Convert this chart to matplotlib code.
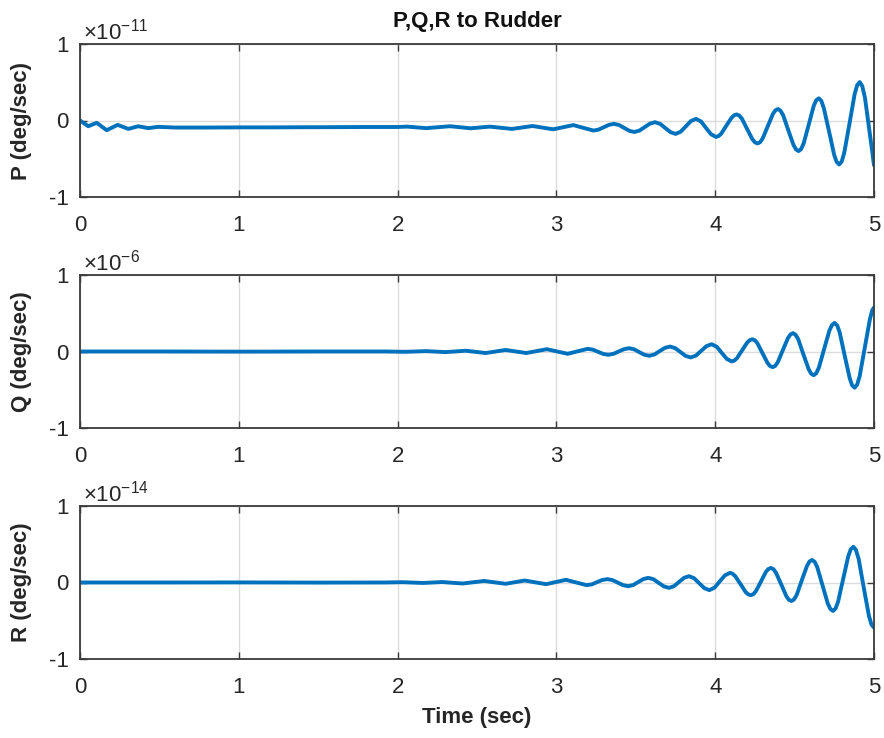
import matplotlib
matplotlib.use("Agg")
import matplotlib.pyplot as plt

plt.rcParams['font.family'] = ['Liberation Sans', 'DejaVu Sans']
plt.rcParams['axes.unicode_minus'] = False
plt.rcParams['mathtext.fontset'] = 'custom'
plt.rcParams['mathtext.rm'] = 'Liberation Sans'

# values, in units of the axis multiplier
p_time = [0.000, 0.052, 0.105, 0.168, 0.237, 0.304, 0.367, 0.430, 0.490,
          0.60, 0.80, 1.00, 1.20, 1.40, 1.60, 1.80, 2.00,
          2.06, 2.18, 2.33, 2.46, 2.58, 2.72, 2.85, 2.98, 3.107, 3.233,
          3.266, 3.298, 3.331, 3.363, 3.395, 3.427, 3.459, 3.491,
          3.524, 3.556, 3.589, 3.621, 3.654, 3.686, 3.719, 3.751,
          3.783, 3.815, 3.847, 3.879, 3.911, 3.942, 3.974,
          4.005, 4.021, 4.038, 4.070, 4.103, 4.119, 4.135, 4.1515, 4.168, 4.201,
          4.234, 4.2505, 4.267, 4.283, 4.299, 4.331, 4.363, 4.379, 4.395, 4.411,
          4.428, 4.460, 4.493, 4.509, 4.525, 4.541, 4.557, 4.589, 4.620, 4.636,
          4.652, 4.668, 4.684, 4.717, 4.749, 4.765, 4.781, 4.797, 4.813, 4.846,
          4.878, 4.894, 4.910, 4.926, 4.943, 4.975, 5.000]
p_vals = [0.000, -0.075, -0.030, -0.127, -0.057, -0.110, -0.075, -0.100, -0.083,
          -0.092, -0.092, -0.090, -0.090, -0.088, -0.087, -0.085, -0.085,
          -0.080, -0.100, -0.075, -0.102, -0.080, -0.110, -0.072, -0.115, -0.060, -0.132,
          -0.119, -0.088, -0.057, -0.044, -0.060, -0.097, -0.135, -0.150,
          -0.131, -0.086, -0.041, -0.022, -0.045, -0.099, -0.153, -0.175,
          -0.146, -0.077, -0.007, 0.022, -0.013, -0.097, -0.180,
          -0.215, -0.204, -0.172, -0.068, 0.036, 0.068, 0.079, 0.065, 0.024, -0.111,
          -0.245, -0.286, -0.300, -0.283, -0.234, -0.075, 0.084, 0.133, 0.150, 0.129,
          0.069, -0.125, -0.319, -0.379, -0.400, -0.374, -0.299, -0.055, 0.189, 0.264,
          0.290, 0.258, 0.163, -0.143, -0.448, -0.543, -0.575, -0.534, -0.418, -0.037,
          0.344, 0.461, 0.502, 0.450, 0.299, -0.192, -0.585]

q_time = [0.0, 0.5, 1.0, 1.5, 1.92, 2.05, 2.18,
          2.30, 2.43, 2.555, 2.68, 2.81, 2.94, 3.071, 3.197,
          3.230, 3.262, 3.295, 3.327, 3.360, 3.392, 3.425, 3.457,
          3.489, 3.521, 3.553, 3.585, 3.618, 3.650, 3.683, 3.715,
          3.748, 3.781, 3.813, 3.846, 3.879, 3.912, 3.945, 3.978,
          4.010, 4.041, 4.073,
          4.104, 4.120, 4.137, 4.169, 4.202, 4.218, 4.234, 4.250, 4.266, 4.298,
          4.330, 4.346, 4.362, 4.378, 4.394, 4.426, 4.458, 4.474, 4.490, 4.506,
          4.523, 4.555, 4.588, 4.604, 4.620, 4.6365, 4.653, 4.686, 4.719, 4.7355,
          4.752, 4.768, 4.784, 4.815, 4.847, 4.862, 4.878, 4.894, 4.910, 4.942,
          4.974, 4.989, 5.000]
q_vals = [0.000, 0.000, -0.002, 0.000, 0.000, -0.004, 0.005,
          -0.008, 0.010, -0.020, 0.020, -0.020, 0.030, -0.030, 0.035,
          0.024, -0.004, -0.032, -0.043, -0.030, 0.000, 0.030, 0.043,
          0.029, -0.007, -0.042, -0.056, -0.038, 0.005, 0.047, 0.065,
          0.044, -0.007, -0.057, -0.078, -0.053, 0.009, 0.070, 0.095,
          0.062, -0.018, -0.097,
          -0.130, -0.119, -0.088, 0.015, 0.118, 0.149, 0.160, 0.146, 0.107, -0.023,
          -0.152, -0.191, -0.205, -0.188, -0.140, 0.018, 0.175, 0.223, 0.240, 0.219,
          0.159, -0.035, -0.229, -0.289, -0.310, -0.284, -0.210, 0.032, 0.273, 0.347,
          0.373, 0.341, 0.249, -0.050, -0.349, -0.441, -0.473, -0.433, -0.320, 0.050,
          0.420, 0.540, 0.575]

r_time = [0.0, 0.5, 1.0, 1.5, 1.92, 2.03, 2.16,
          2.28, 2.41, 2.545, 2.68, 2.80, 2.935, 3.06, 3.191,
          3.224, 3.256, 3.289, 3.321, 3.354, 3.387, 3.420, 3.453,
          3.485, 3.516, 3.548, 3.579, 3.612, 3.644, 3.677, 3.709,
          3.741, 3.772, 3.804, 3.835, 3.867, 3.899, 3.931, 3.963,
          3.996, 4.028, 4.061,
          4.093, 4.109, 4.126, 4.159, 4.191, 4.208, 4.224, 4.240, 4.256, 4.288,
          4.319, 4.335, 4.351, 4.367, 4.383, 4.416, 4.448, 4.464, 4.480, 4.496,
          4.513, 4.545, 4.578, 4.594, 4.610, 4.6265, 4.643, 4.676, 4.709, 4.7255,
          4.742, 4.758, 4.774, 4.806, 4.838, 4.854, 4.870, 4.886, 4.903, 4.935,
          4.968, 4.984, 5.000]
r_vals = [0.000, 0.000, 0.001, -0.001, 0.000, 0.004, -0.006,
          0.006, -0.013, 0.020, -0.017, 0.026, -0.022, 0.035, -0.035,
          -0.024, 0.005, 0.033, 0.044, 0.031, -0.002, -0.035, -0.048,
          -0.032, 0.007, 0.045, 0.061, 0.042, -0.005, -0.051, -0.070,
          -0.048, 0.007, 0.061, 0.083, 0.056, -0.009, -0.073, -0.100,
          -0.067, 0.013, 0.093,
          0.126, 0.115, 0.083, -0.020, -0.123, -0.155, -0.166, -0.153, -0.114, 0.012,
          0.138, 0.177, 0.190, 0.174, 0.127, -0.026, -0.179, -0.226, -0.242, -0.222,
          -0.164, 0.027, 0.217, 0.275, 0.295, 0.270, 0.198, -0.039, -0.275, -0.347,
          -0.372, -0.340, -0.249, 0.048, 0.344, 0.435, 0.467, 0.427, 0.312, -0.062,
          -0.435, -0.550, -0.590]

labels = ['P (deg/sec)', 'Q (deg/sec)', 'R (deg/sec)']
exponents = ['-11', '-6', '-14']
x_ticks = [0, 1, 2, 3, 4, 5]
y_ticks = [-1, 0, 1]

W, H = 884, 738
fig = plt.figure(figsize=(W / 100, H / 100), dpi=100)

# axes boxes in pixels: (top, bottom)
boxes = [(44, 197), (275, 428), (506, 659)]
left, right = 80, 874

series = [(p_time, p_vals), (q_time, q_vals), (r_time, r_vals)]
for i, ((t, v), (top, bot)) in enumerate(zip(series, boxes)):
    ax = fig.add_axes([left / W, 1 - bot / H, (right - left) / W, (bot - top) / H])
    ax.plot(t, v, color='#0072BD', lw=2.8, solid_joinstyle='round',
            solid_capstyle='round')
    ax.set_xlim(0, 5)
    ax.set_ylim(-1, 1)
    ax.set_xticks(x_ticks)
    ax.set_yticks(y_ticks)
    ax.grid(True, color='#dcdcdc', lw=1)
    ax.set_axisbelow(True)
    for s in ax.spines.values():
        s.set_color('#3a3a3a')
        s.set_linewidth(1.3)
    ax.tick_params(direction='in', top=True, right=True, length=5, width=1,
                   colors='#3a3a3a', labelcolor='#262626', labelsize=16)
    ax.tick_params(axis='y', pad=8)
    ax.tick_params(axis='x', pad=13)
    ax.set_ylabel(labels[i], fontsize=16, fontweight='bold', color='#262626')
    ax.yaxis.set_label_coords(-0.06, 0.5)
    ax.text(0.004, 1.03, '×10$^{' + exponents[i] + '}$', transform=ax.transAxes,
            ha='left', va='baseline', fontsize=16, color='#262626')

fig.text(477 / W, 1 - 22 / H, 'P,Q,R to Rudder', ha='center', va='center',
         fontsize=16, fontweight='bold', color='#111111')
fig.text(477 / W, 1 - 718 / H, 'Time (sec)', ha='center', va='center',
         fontsize=16, fontweight='bold', color='#262626')

fig.savefig('out.png', dpi=100)
